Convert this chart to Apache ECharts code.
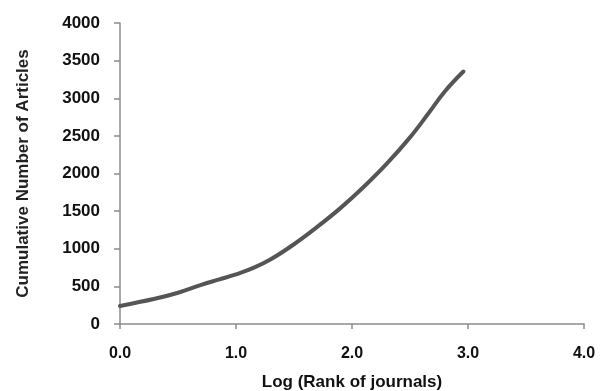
<!DOCTYPE html>
<html>
<head>
<meta charset="utf-8">
<script src="https://cdn.jsdelivr.net/npm/echarts@6/dist/echarts.min.js"></script>
<style>
  html, body { margin: 0; padding: 0; background: #fff; }
  #chart { width: 600px; height: 391px; }
</style>
</head>
<body>
<div id="chart"></div>
<script>
// log(rank) vs cumulative articles
const logRank = [0, 0.3, 0.5, 0.7, 0.85, 1.0, 1.15, 1.3, 1.5, 1.7, 1.9, 2.1, 2.3, 2.5, 2.65, 2.8, 2.96]
const cumArticles = [240, 335, 415, 520, 590, 660, 745, 860, 1060, 1290, 1540, 1820, 2130, 2480, 2780, 3090, 3355]

const chart = echarts.init(document.getElementById('chart'))

let option = {
  animation: false,
  grid: {
    left: 120,
    right: 16,
    top: 23,
    bottom: 67,
    outerBoundsMode: 'none'
  },
  xAxis: {
    type: 'value',
    min: 0,
    max: 4,
    interval: 1,
    name: 'Log (Rank of journals)',
    nameLocation: 'middle',
    nameGap: 50,
    nameTextStyle: {
      fontFamily: 'Liberation Sans',
      fontWeight: 'bold',
      fontSize: 17,
      color: '#111'
    },
    axisLine: { lineStyle: { color: '#8c8c8c', width: 1.5 } },
    axisTick: { show: true, length: 5, lineStyle: { color: '#8c8c8c', width: 1.5 } },
    axisLabel: {
      margin: 22,
      fontFamily: 'Liberation Sans',
      fontWeight: 'bold',
      fontSize: 16,
      color: '#111',
      formatter: v => v.toFixed(1)
    },
    splitLine: { show: false }
  },
  yAxis: {
    type: 'value',
    min: 0,
    max: 4000,
    interval: 500,
    name: 'Cumulative Number of Articles',
    nameLocation: 'middle',
    nameGap: 88,
    nameTextStyle: {
      fontFamily: 'Liberation Sans',
      fontWeight: 'bold',
      fontSize: 17,
      color: '#222'
    },
    axisLine: { show: true, lineStyle: { color: '#8c8c8c', width: 1.5 } },
    axisTick: { show: true, length: 6, lineStyle: { color: '#8c8c8c', width: 1.5 } },
    axisLabel: {
      margin: 20,
      fontFamily: 'Liberation Sans',
      fontWeight: 'bold',
      fontSize: 17,
      color: '#111',
      formatter: v => String(v)
    },
    splitLine: { show: false }
  },
  series: [
    {
      type: 'line',
      smooth: 0.4,
      symbol: 'none',
      lineStyle: { color: '#555555', width: 4, cap: 'round' },
      data: logRank.map((x, i) => [x, cumArticles[i]])
    }
  ]
}

chart.setOption(option)
</script>
</body>
</html>
